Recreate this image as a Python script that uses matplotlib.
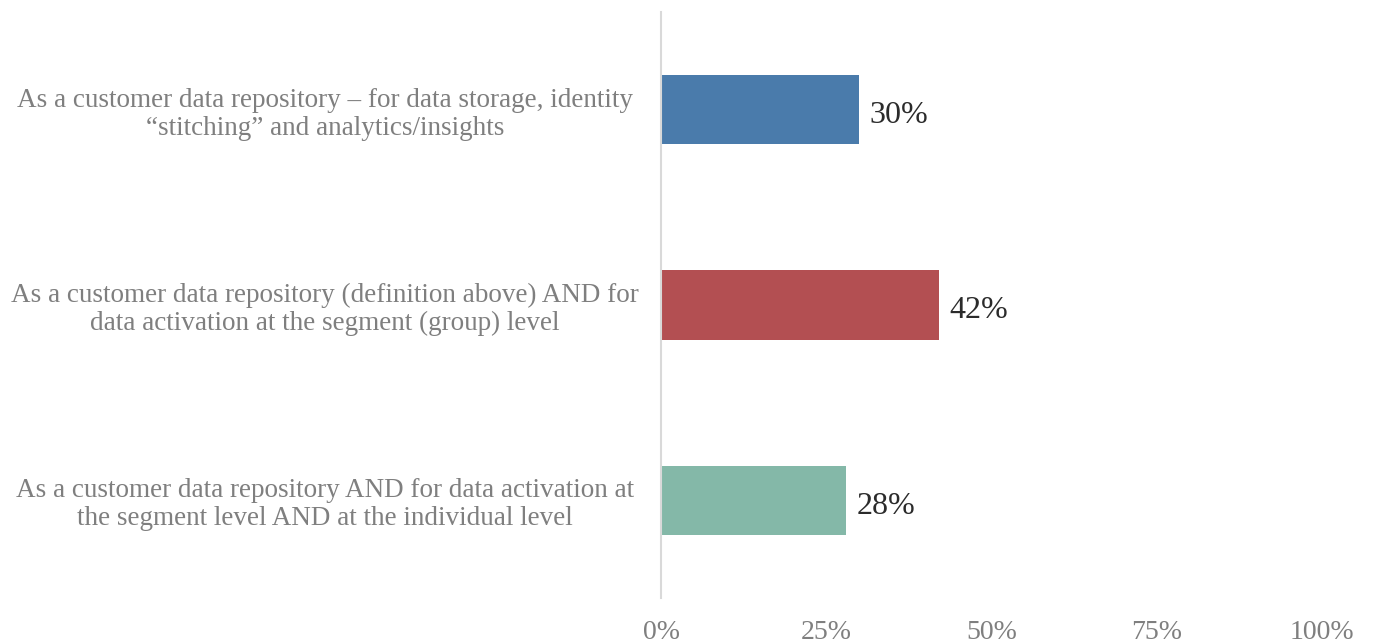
import matplotlib
matplotlib.use("Agg")
import matplotlib.pyplot as plt
from matplotlib.ticker import FixedLocator

categories = [
    "As a customer data repository \u2013 for data storage, identity\n\u201cstitching\u201d and analytics/insights",
    "As a customer data repository (definition above) AND for\ndata activation at the segment (group) level",
    "As a customer data repository AND for data activation at\nthe segment level AND at the individual level",
]
values = [30, 42, 28]
bar_colors = ["#4a7bab", "#b34f52", "#84b8a8"]
x_ticks = [0, 25, 50, 75, 100]
x_tick_labels = ["0%", "25%", "50%", "75%", "100%"]

plt.rcParams["font.family"] = ["Liberation Serif", "DejaVu Serif"]

W, H = 1375, 644
fig = plt.figure(figsize=(W / 100, H / 100), dpi=100)
ax = fig.add_axes([661 / W, 1 - 598 / H, (1322 - 661) / W, (598 - 12) / H])

ypos = list(range(len(categories)))
ax.barh(ypos, values, height=0.354, color=bar_colors)
ax.set_ylim(len(categories) - 0.5, -0.5)
ax.set_xlim(0, 100)

for y, v in zip(ypos, values):
    ax.text(v + 1.6, y + 0.03, f"{v}%", va="center", ha="left", fontsize=23, color="#2b2b2b")

ax.set_yticks(ypos)
ax.set_yticklabels(categories, fontsize=19.5, color="#7f7f7f", ha="center", linespacing=1.15)
ax.tick_params(axis="y", length=0, pad=242)
ax.xaxis.set_major_locator(FixedLocator(x_ticks))
ax.set_xticklabels(x_tick_labels, fontsize=20, color="#7f7f7f")
ax.tick_params(axis="x", length=0, pad=16)

for side in ["top", "right", "bottom"]:
    ax.spines[side].set_visible(False)
ax.spines["left"].set_color("#d9d9d9")
ax.spines["left"].set_linewidth(1.5)

fig.savefig("out.png", dpi=100)
